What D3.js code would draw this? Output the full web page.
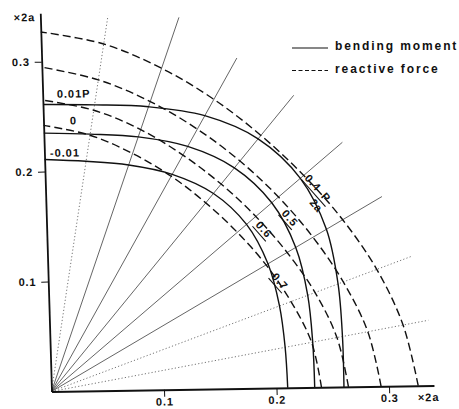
<!DOCTYPE html>
<html>
<head>
<meta charset="utf-8">
<script src="https://cdn.jsdelivr.net/npm/d3@7"></script>
<style>
  body { margin: 0; background: #fff; }
  svg text { font-family: "Liberation Sans", Arial, Helvetica, sans-serif; font-weight: bold; fill: #111; }
</style>
</head>
<body>
<svg id="chart" width="459" height="409"></svg>
<script>
// Polar sample angles (degrees from the x axis) at which each contour radius is given
const sampleAngles = [0, 10, 20, 30, 40, 50, 60, 70, 80, 90];

// Bending-moment contours (radius in units of 2a)
const momentLevels = ["0.01P", "0", "-0.01"];
const momentPos   = [0.260, 0.264, 0.274, 0.287, 0.296, 0.296, 0.287, 0.274, 0.264, 0.261];
const momentZero  = [0.234, 0.237, 0.245, 0.255, 0.262, 0.262, 0.255, 0.245, 0.237, 0.235];
const momentNeg   = [0.210, 0.212, 0.218, 0.226, 0.232, 0.232, 0.226, 0.218, 0.212, 0.211];

// Reactive-force contours (radius in units of 2a)
const forceLevels = ["0.4", "0.5", "0.6", "0.7"];
const force04 = [0.326, 0.319, 0.311, 0.304, 0.300, 0.300, 0.304, 0.311, 0.320, 0.327];
const force05 = [0.293, 0.287, 0.279, 0.273, 0.270, 0.270, 0.273, 0.279, 0.287, 0.295];
const force06 = [0.264, 0.259, 0.252, 0.246, 0.243, 0.243, 0.246, 0.252, 0.259, 0.265];
const force07 = [0.240, 0.236, 0.229, 0.224, 0.221, 0.221, 0.224, 0.229, 0.236, 0.242];

// Radial reference lines
const rayAngles = [10, 20, 30, 40, 50, 60, 70, 80];
const rayDotted = [true, true, false, false, false, false, false, true];
const rayLength = [0.342, 0.345, 0.345, 0.346, 0.347, 0.347, 0.360, 0.346];

// Axis ticks
const axisTicks = [0.1, 0.2, 0.3];
const axisUnit = "\u00d72a";

const svg = d3.select("#chart");

const x = d3.scaleLinear().domain([0, 0.34]).range([0, 0.34 * 1125]);
const y = d3.scaleLinear().domain([0, 0.344]).range([0, -0.344 * 1100]);

// plot frame: origin at lower left, axes slightly skewed like the printed figure
const g = svg.append("g")
  .attr("transform", "matrix(0.99988,-0.0157,0.0297,0.99956,51.5,391.5)");

const rad = d => d * Math.PI / 180;
const polar = (rs) => rs.map((r, i) => ({ a: rad(sampleAngles[i]), r }));

// rays
g.append("g").selectAll("line")
  .data(rayAngles.map((a, i) => ({ a: rad(a), dotted: rayDotted[i], L: rayLength[i] })))
  .join("line")
  .attr("x1", x(0)).attr("y1", y(0))
  .attr("x2", d => x(d.L * Math.cos(d.a)))
  .attr("y2", d => y(d.L * Math.sin(d.a)))
  .attr("stroke", d => d.dotted ? "#666" : "#333")
  .attr("stroke-width", d => d.dotted ? 0.9 : 0.75)
  .attr("stroke-dasharray", d => d.dotted ? "1.2,2.2" : null);

const line = d3.line()
  .x(d => x(d.r * Math.cos(d.a)))
  .y(d => y(d.r * Math.sin(d.a)))
  .curve(d3.curveCatmullRom.alpha(0.5));

// reactive force (dashed)
g.append("g").selectAll("path")
  .data([force04, force05, force06, force07])
  .join("path")
  .attr("d", d => line(polar(d)))
  .attr("fill", "none")
  .attr("stroke", "#111")
  .attr("stroke-width", 1.4)
  .attr("stroke-dasharray", "8,4");

// bending moment (solid)
g.append("g").selectAll("path")
  .data([momentPos, momentZero, momentNeg])
  .join("path")
  .attr("d", d => line(polar(d)))
  .attr("fill", "none")
  .attr("stroke", "#111")
  .attr("stroke-width", 1.4);

// axes
const xAxis = d3.axisBottom(x).tickValues(axisTicks).tickFormat(d3.format(".1f"))
  .tickSize(7).tickSizeOuter(0).tickPadding(1);
const yAxis = d3.axisLeft(y).tickValues(axisTicks).tickFormat(d3.format(".1f"))
  .tickSize(7).tickSizeOuter(0).tickPadding(5);

const gx = g.append("g").call(xAxis);
const gy = g.append("g").call(yAxis);
[gx, gy].forEach(a => {
  a.attr("font-family", null).attr("font-size", null);
  a.select(".domain").attr("stroke", "#111").attr("stroke-width", 1.8);
  a.selectAll(".tick line").attr("stroke", "#111").attr("stroke-width", 1);
  a.selectAll(".tick text").attr("font-size", 11).attr("letter-spacing", 0.8).attr("fill", "#111");
});

// unit labels
g.append("text").attr("x", x(0.335)).attr("y", 15.5)
  .attr("text-anchor", "middle").attr("font-size", 11).attr("letter-spacing", 1)
  .text(axisUnit);
g.append("text").attr("x", -5).attr("y", y(0.337))
  .attr("text-anchor", "end").attr("font-size", 11).attr("letter-spacing", 1)
  .text(axisUnit);

// bending-moment level labels
const momentLabelPos = [[0.0126, 0.2669], [0.0235, 0.2424], [0.0049, 0.2133]];
g.append("g").selectAll("text")
  .data(momentLevels)
  .join("text")
  .attr("x", (d, i) => x(momentLabelPos[i][0]))
  .attr("y", (d, i) => y(momentLabelPos[i][1]))
  .attr("font-size", 11).attr("letter-spacing", 1)
  .text(d => d);

// reactive-force level labels, written along the contours
const forceLabelPos = [[0.2379, 0.1860], [0.2165, 0.1542], [0.1931, 0.1442], [0.2060, 0.0968]];
const fl = g.append("g").selectAll("g")
  .data(forceLevels)
  .join("g")
  .attr("transform", (d, i) => `translate(${x(forceLabelPos[i][0])},${y(forceLabelPos[i][1])}) rotate(50)`);
fl.append("text")
  .attr("text-anchor", "middle").attr("font-size", 11).attr("letter-spacing", 1)
  .attr("dy", "0.35em")
  .text(d => d);
fl.append("line")
  .attr("x1", -10).attr("x2", (d, i) => i === 0 ? 26 : 10)
  .attr("y1", 6.5).attr("y2", 6.5)
  .attr("stroke", "#111").attr("stroke-width", 1.1);
// unit for the first force label: P over 2a
const f0 = fl.filter((d, i) => i === 0);
f0.append("text").attr("x", 19).attr("y", 3.5).attr("text-anchor", "middle")
  .attr("font-size", 11).text("P");
f0.append("text").attr("x", 19).attr("y", 16.5).attr("text-anchor", "middle")
  .attr("font-size", 11).attr("letter-spacing", 0.5).text("2a");

// legend
const legend = svg.append("g");
const legendItems = ["bending moment", "reactive force"];
legendItems.forEach((t, i) => {
  const yy = 48 + i * 22.5;
  legend.append("line").attr("x1", 292).attr("x2", 328).attr("y1", yy).attr("y2", yy)
    .attr("stroke", "#111").attr("stroke-width", 1.1)
    .attr("stroke-dasharray", i === 1 ? "4,2.5" : null);
  legend.append("text").attr("x", 335).attr("y", yy + 2)
    .attr("font-size", 12).attr("letter-spacing", 1.9).text(t);
});
</script>
</body>
</html>
